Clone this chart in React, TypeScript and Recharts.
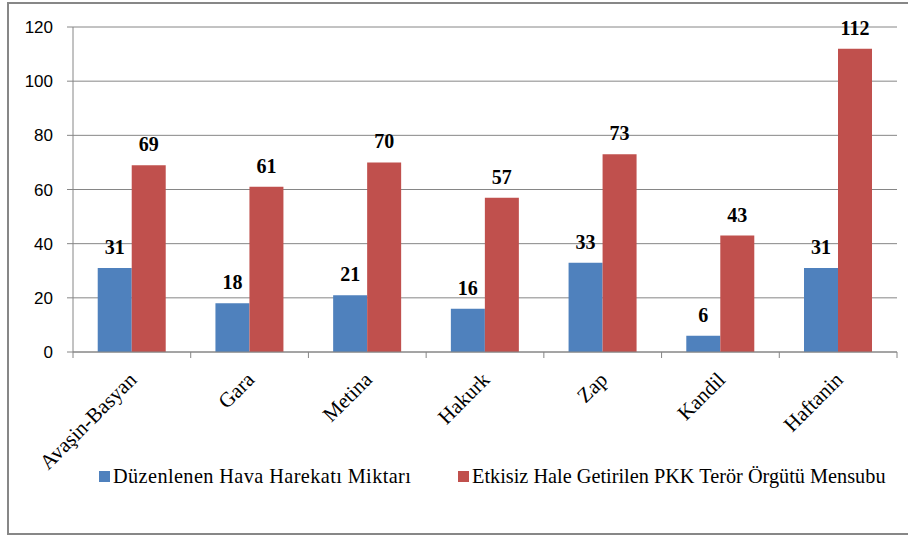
import React from "react";
import { BarChart, Bar, XAxis, YAxis, CartesianGrid, LabelList } from "recharts";

const regions = ["Avaşin-Basyan", "Gara", "Metina", "Hakurk", "Zap", "Kandil", "Haftanin"];
const airOps = [31, 18, 21, 16, 33, 6, 31];
const neutralized = [69, 61, 70, 57, 73, 43, 112];
const yTicks = [0, 20, 40, 60, 80, 100, 120];

const seriesNames = ["Düzenlenen Hava Harekatı Miktarı", "Etkisiz Hale Getirilen PKK Terör Örgütü Mensubu"];
const colors = ["#4F81BD", "#C0504D"];

const data = regions.map((name, i) => ({ name, airOps: airOps[i], neutralized: neutralized[i] }));

const axisGray = "#868686";
const serif = "'Liberation Serif', 'Times New Roman', serif";

const CategoryTick = (props: any) => {
  const { x, y, payload, index } = props;
  const half = payload.offset || 0;
  const axisY = y - 6;
  return (
    <g>
      <line x1={x - half} x2={x - half} y1={axisY} y2={axisY + 6} stroke={axisGray} />
      {index === regions.length - 1 && (
        <line x1={x + half} x2={x + half} y1={axisY} y2={axisY + 6} stroke={axisGray} />
      )}
      <text
        x={0}
        y={0}
        transform={`translate(${x + 6}, ${axisY + 29}) rotate(-45)`}
        textAnchor="end"
        fontFamily={serif}
        fontSize={21}
        fill="#000"
      >
        {payload.value}
      </text>
    </g>
  );
};

// legend item left edges
const legendLeft = [99, 458];

const App = () => {
  return (
    <div style={{ position: "absolute", left: 0, top: 0, width: 908, height: 536, background: "#fff" }}>
      <div
        style={{
          position: "absolute",
          left: 7,
          top: 2,
          width: 901,
          height: 533,
          boxSizing: "border-box",
          borderLeft: "2px solid #878787",
          borderTop: "2px solid #878787",
          borderBottom: "2px solid #878787",
        }}
      />
      <div style={{ position: "absolute", left: 0, top: 0 }}>
        <BarChart
          width={908}
          height={536}
          data={data}
          margin={{ top: 27, right: 11, left: 0, bottom: 0 }}
          barCategoryGap="21%"
          barGap={0}
        >
          <CartesianGrid horizontal={true} vertical={false} stroke={axisGray} />
          <XAxis
            dataKey="name"
            interval={0}
            height={184}
            tickSize={6}
            tickMargin={0}
            tickLine={false}
            axisLine={{ stroke: axisGray }}
            tick={<CategoryTick />}
          />
          <YAxis
            width={73}
            domain={[0, 120]}
            ticks={yTicks}
            interval={0}
            tickSize={6}
            tickMargin={14}
            axisLine={{ stroke: axisGray }}
            tickLine={{ stroke: axisGray }}
            tick={{ fontFamily: "'Liberation Sans', Arial, sans-serif", fontSize: 17, fill: "#000" }}
          />
          <Bar dataKey="airOps" fill={colors[0]} isAnimationActive={false}>
            <LabelList
              dataKey="airOps"
              position="top"
              offset={14}
              style={{ fontFamily: serif, fontSize: 20, fontWeight: "bold", fill: "#000" }}
            />
          </Bar>
          <Bar dataKey="neutralized" fill={colors[1]} isAnimationActive={false}>
            <LabelList
              dataKey="neutralized"
              position="top"
              offset={14}
              style={{ fontFamily: serif, fontSize: 20, fontWeight: "bold", fill: "#000" }}
            />
          </Bar>
        </BarChart>
      </div>
      {/* legend */}
      {seriesNames.map((n, i) => (
        <div
          key={n}
          style={{
            position: "absolute",
            left: legendLeft[i],
            top: 463,
            display: "flex",
            alignItems: "center",
            fontFamily: serif,
            fontSize: 20.3,
            letterSpacing: i === 0 ? 0.4 : 0,
            color: "#000",
            whiteSpace: "nowrap",
            lineHeight: "26px",
          }}
        >
          <span style={{ display: "inline-block", width: 11, height: 11, background: colors[i], marginRight: 3 }} />
          <span>{n}</span>
        </div>
      ))}
    </div>
  );
};

export default App;
